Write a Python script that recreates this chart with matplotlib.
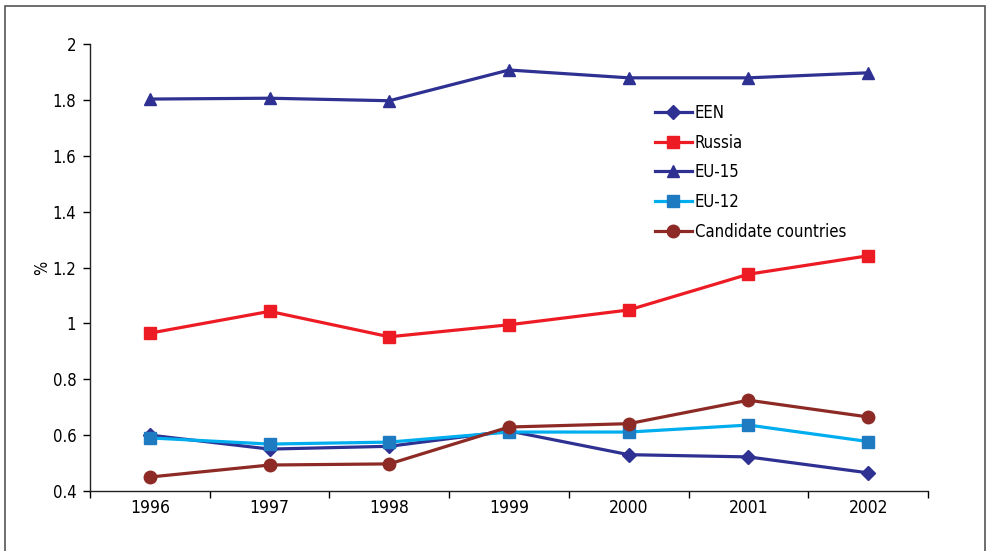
import numpy as np
import matplotlib
matplotlib.use('Agg')
import matplotlib.pyplot as plt
from matplotlib.patches import Rectangle
from matplotlib.ticker import FuncFormatter, FixedLocator

plt.rcParams['font.family'] = ['DejaVu Sans']
plt.rcParams['font.stretch'] = 'condensed'

years = ['1996', '1997', '1998', '1999', '2000', '2001', '2002']
een = [0.60, 0.55, 0.56, 0.615, 0.53, 0.522, 0.465]
russia = [0.965, 1.043, 0.952, 0.995, 1.048, 1.176, 1.242]
eu15 = [1.803, 1.806, 1.797, 1.907, 1.879, 1.879, 1.897]
eu12 = [0.59, 0.568, 0.575, 0.611, 0.611, 0.636, 0.577]
candidates = [0.45, 0.493, 0.497, 0.629, 0.641, 0.725, 0.665]

navy = '#2E3192'
fig = plt.figure(figsize=(9.86, 5.51), dpi=100)
ax = fig.add_axes([0.0913, 0.1089, 0.8499, 0.8112])

x = np.arange(len(years))
lw = 2.3
ax.plot(x, een, color=navy, lw=lw, marker='D', ms=7, label='EEN')
ax.plot(x, russia, color='#ED1C24', lw=lw, marker='s', ms=9, label='Russia')
ax.plot(x, eu15, color=navy, lw=lw, marker='^', ms=9, label='EU-15')
ax.plot(x, eu12, color='#00AEEF', lw=lw, marker='s', ms=9, mfc='#1F7BC1', mec='#1F7BC1', label='EU-12')
ax.plot(x, candidates, color='#8E2A25', lw=lw, marker='o', ms=9, label='Candidate countries')

ax.set_xlim(-0.5, len(years) - 0.5)
ax.set_ylim(0.4, 2.0)
ax.set_yticks(np.arange(0.4, 2.01, 0.2))
ax.yaxis.set_major_formatter(FuncFormatter(lambda v, p: '%g' % round(v, 1)))
ax.xaxis.set_major_locator(FixedLocator(np.arange(-0.5, len(years), 1.0)))
ax.set_xticklabels([])
ax.set_xticks(x, minor=True)
ax.set_xticklabels(years, minor=True)
ax.tick_params(axis='x', which='minor', length=0, labelsize=12.5, pad=6)
ax.tick_params(axis='x', which='major', length=5, width=1)
ax.tick_params(axis='y', length=5, width=1, labelsize=12, pad=5)
for s in ['top', 'right']:
    ax.spines[s].set_visible(False)
for s in ['left', 'bottom']:
    ax.spines[s].set_linewidth(1)
    ax.spines[s].set_color('#222222')
ax.set_ylabel('%', fontsize=12)
ax.yaxis.set_label_coords(-0.046, 0.5)

ax.legend(loc='upper left', bbox_to_anchor=(0.674, 0.866), frameon=False, fontsize=12,
          handlelength=2.2, handletextpad=0.2, labelspacing=0.7, borderaxespad=0,
          borderpad=0)

fig.patches.append(Rectangle((5 / 986, -0.05), 980 / 986, 1 - 6 / 551 + 0.05,
                             transform=fig.transFigure, fill=False,
                             edgecolor='#555555', lw=1.2))

plt.savefig('out.png', dpi=100)
